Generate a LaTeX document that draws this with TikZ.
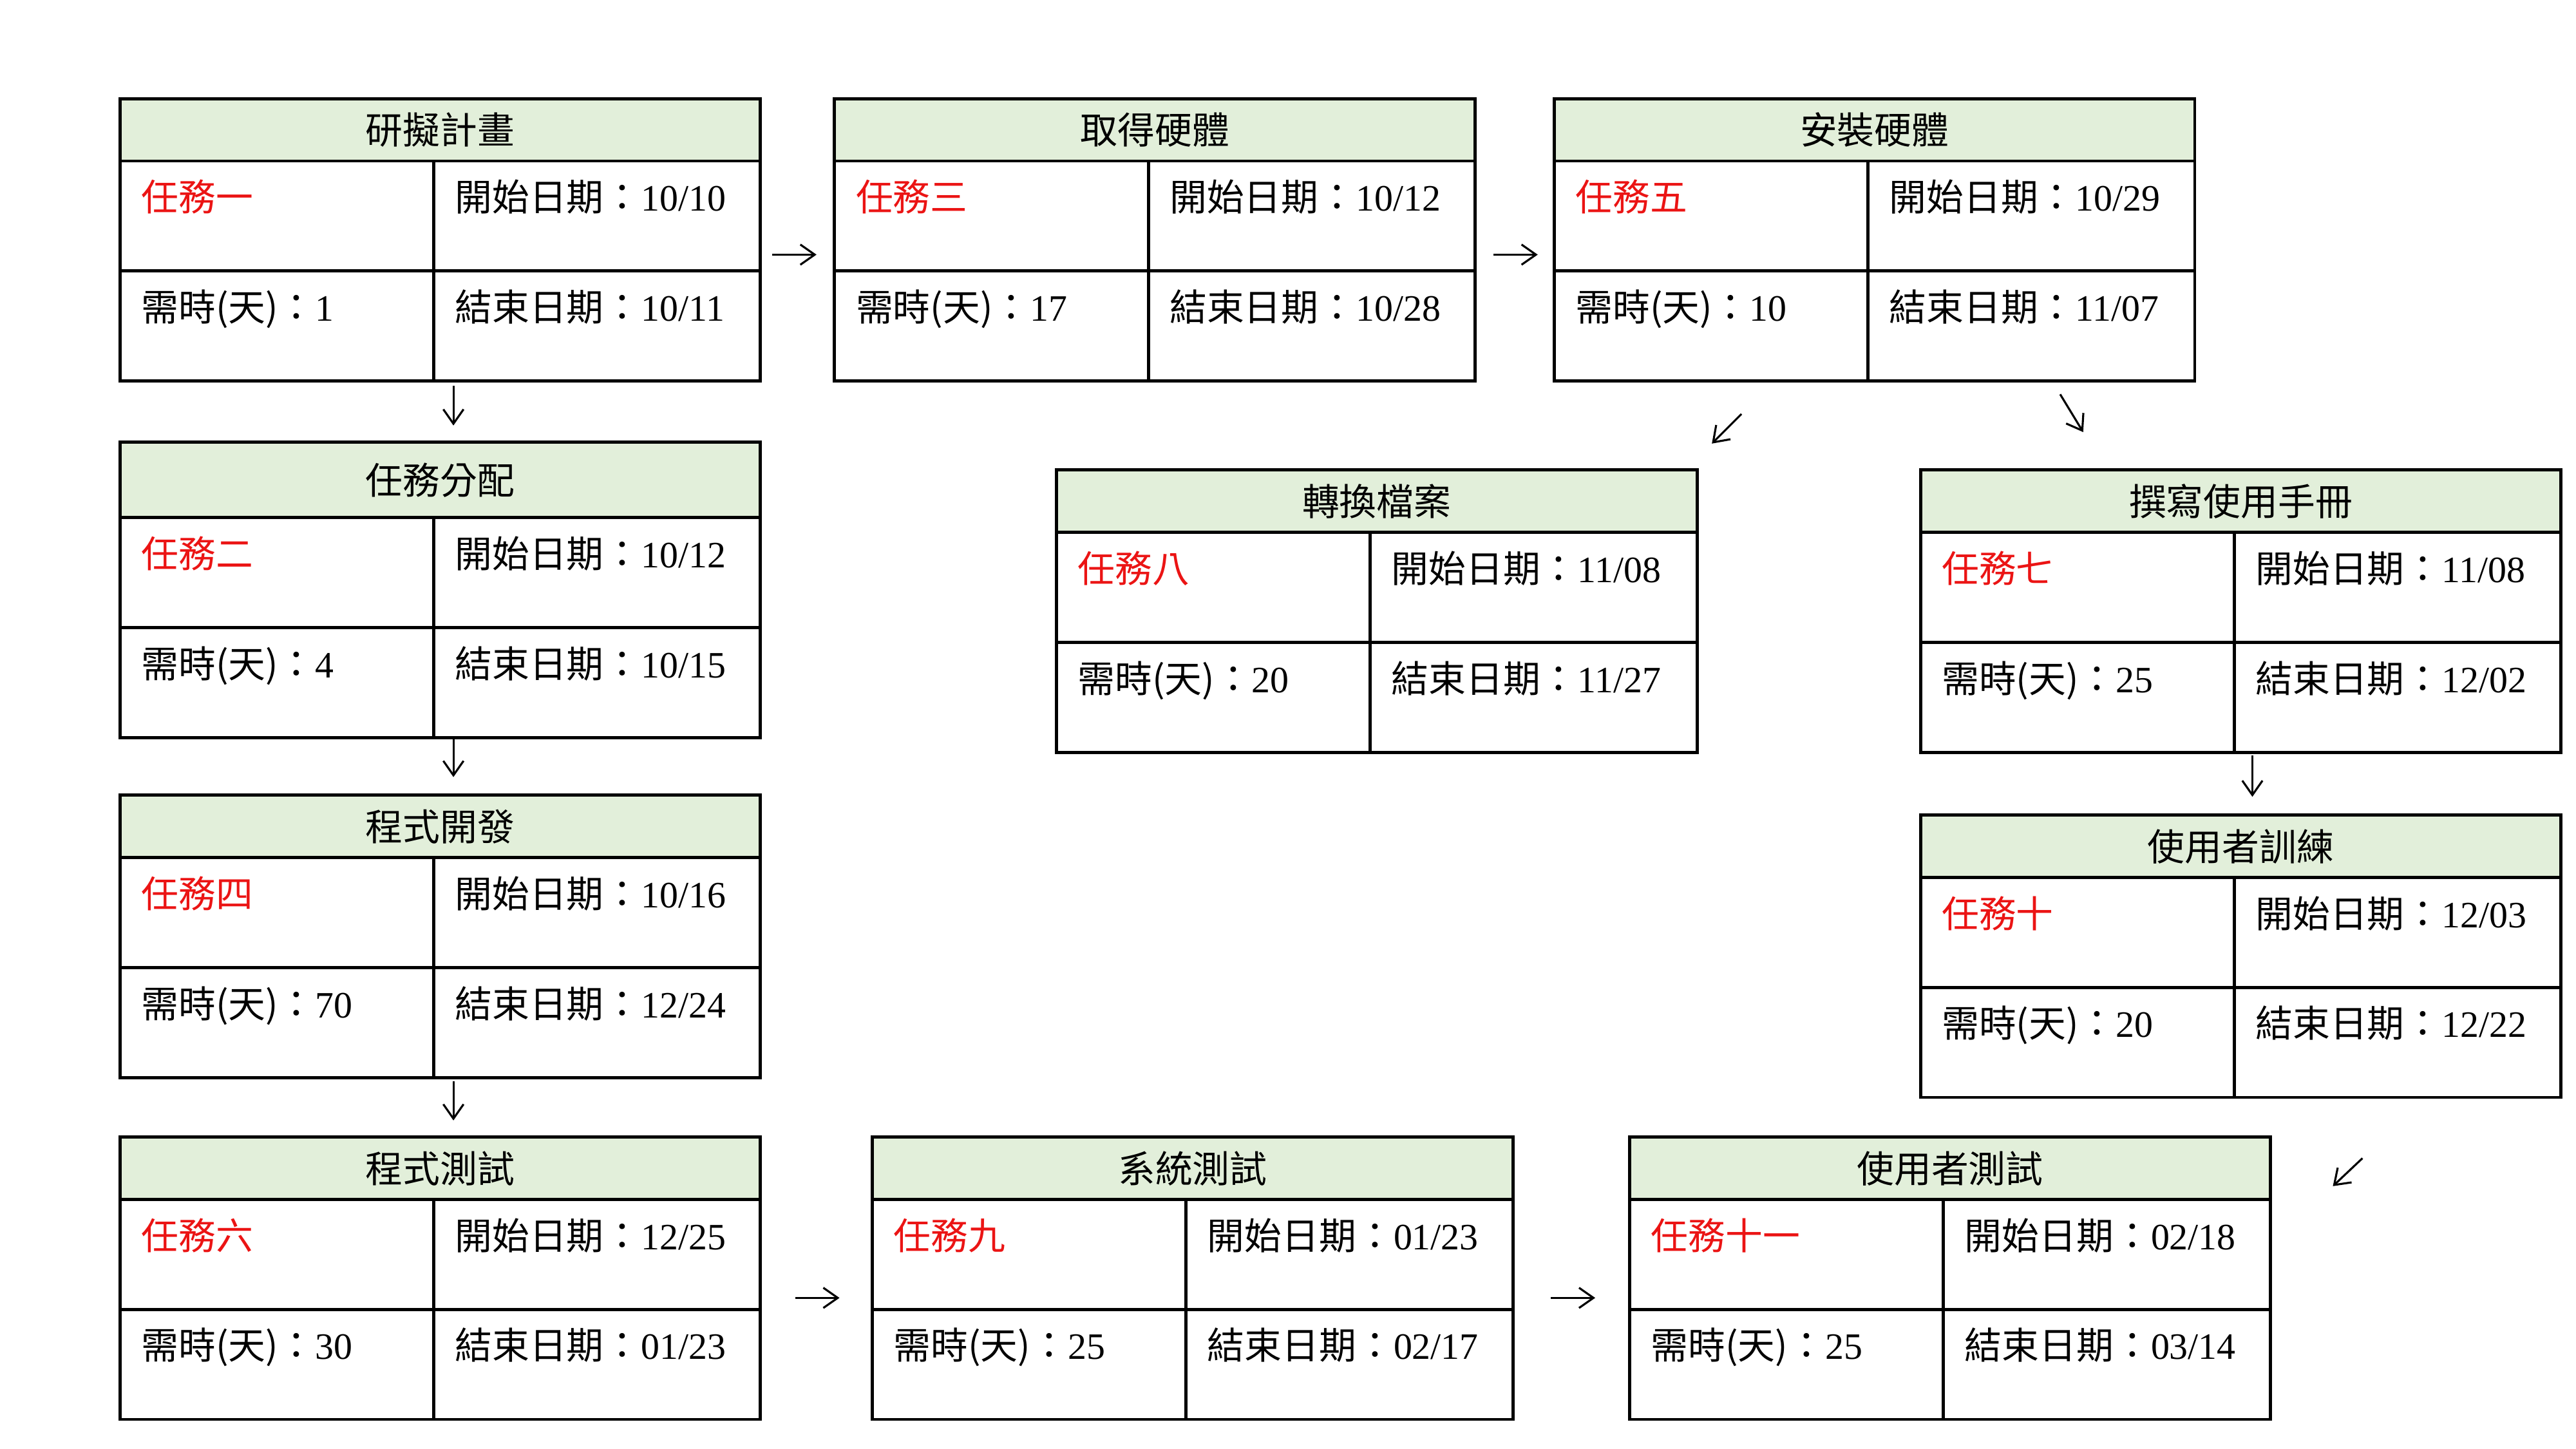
\documentclass[tikz,border=0pt]{standalone}
\usepackage{fontspec}
\setmainfont{Noto Sans CJK TC}
\newfontfamily\latin{Liberation Serif}
\usepackage{tikz}
\usetikzlibrary{arrows.meta,positioning,calc}

\definecolor{hdrgreen}{RGB}{226,239,218}
\definecolor{taskred}{RGB}{235,20,20}

\tikzset{
  hdr/.style={draw, fill=hdrgreen, line width=1.1pt, outer sep=0pt,
    minimum width=7.8cm, minimum height=0.76cm, inner sep=0pt,
    text height=1.0em, text depth=0em},
  lcell/.style={draw, line width=1.1pt, outer sep=0pt, inner xsep=0.26cm, inner ysep=0pt,
    text width=3.30cm, align=left, text height=0.61cm, text depth=0.73cm},
  rcell/.style={lcell, text width=3.46cm},
  arr/.style={-{Straight Barb[length=5pt,width=7pt]}, line width=0.7pt}
}

% one task: [header height] name, top-left, title, task, days, start, end
\newcommand{\taskbox}[8][0.76cm]{%
  \node[hdr, minimum height=#1, anchor=north west] (#2) at (#3) {#4};
  \node[lcell, anchor=north west] (#2-task) at (#2.south west) {\textcolor{taskred}{#5}};
  \node[rcell, anchor=north west] (#2-start) at (#2-task.north east) {開始日期：{\latin #7}};
  \node[lcell, anchor=north west] (#2-days) at (#2-task.south west) {需時(天)：{\latin #6}};
  \node[rcell, anchor=north west] (#2-end) at (#2-days.north east) {結束日期：{\latin #8}};
}

\begin{document}
\begin{tikzpicture}[x=0.02cm, y=-0.02cm, font=\fontsize{12.9pt}{15pt}\selectfont]
  \useasboundingbox (0,0) rectangle (1568,882);

  \taskbox{plan}{73,60}{研擬計畫}{任務一}{1}{10/10}{10/11}
  \taskbox{hw}{508,60}{取得硬體}{任務三}{17}{10/12}{10/28}
  \taskbox{inst}{946,60}{安裝硬體}{任務五}{10}{10/29}{11/07}
  \taskbox[0.92cm]{assign}{73,269}{任務分配}{任務二}{4}{10/12}{10/15}
  \taskbox{dev}{73,484}{程式開發}{任務四}{70}{10/16}{12/24}
  \taskbox{ptest}{73,692}{程式測試}{任務六}{30}{12/25}{01/23}
  \taskbox{stest}{531,692}{系統測試}{任務九}{25}{01/23}{02/17}
  \taskbox{utest}{992,692}{使用者測試}{任務十一}{25}{02/18}{03/14}
  \taskbox{conv}{643,286}{轉換檔案}{任務八}{20}{11/08}{11/27}
  \taskbox{manual}{1169,286}{撰寫使用手冊}{任務七}{25}{11/08}{12/02}
  \taskbox{train}{1169,496}{使用者訓練}{任務十}{20}{12/03}{12/22}

  % floating arrows
  \coordinate (a1s) at (470,155);   \coordinate (a1e) at (497,155);
  \coordinate (a2s) at (909,155);   \coordinate (a2e) at (936,155);
  \coordinate (a3s) at (276,235);   \coordinate (a3e) at (276,259);
  \coordinate (a4s) at (276,450);   \coordinate (a4e) at (276,473);
  \coordinate (a5s) at (276,658);   \coordinate (a5e) at (276,682);
  \coordinate (a6s) at (1060,252);  \coordinate (a6e) at (1042,270);
  \coordinate (a7s) at (1254,240);  \coordinate (a7e) at (1268,263);
  \coordinate (a8s) at (1371,460);  \coordinate (a8e) at (1371,485);
  \coordinate (a9s) at (1438,705);  \coordinate (a9e) at (1420,722);
  \coordinate (a10s) at (484,790);  \coordinate (a10e) at (511,790);
  \coordinate (a11s) at (944,790);  \coordinate (a11e) at (971,790);

  \draw[arr] (a1s) -- (a1e);
  \draw[arr] (a2s) -- (a2e);
  \draw[arr] (a3s) -- (a3e);
  \draw[arr] (a4s) -- (a4e);
  \draw[arr] (a5s) -- (a5e);
  \draw[arr] (a6s) -- (a6e);
  \draw[arr] (a7s) -- (a7e);
  \draw[arr] (a8s) -- (a8e);
  \draw[arr] (a9s) -- (a9e);
  \draw[arr] (a10s) -- (a10e);
  \draw[arr] (a11s) -- (a11e);
\end{tikzpicture}
\end{document}
